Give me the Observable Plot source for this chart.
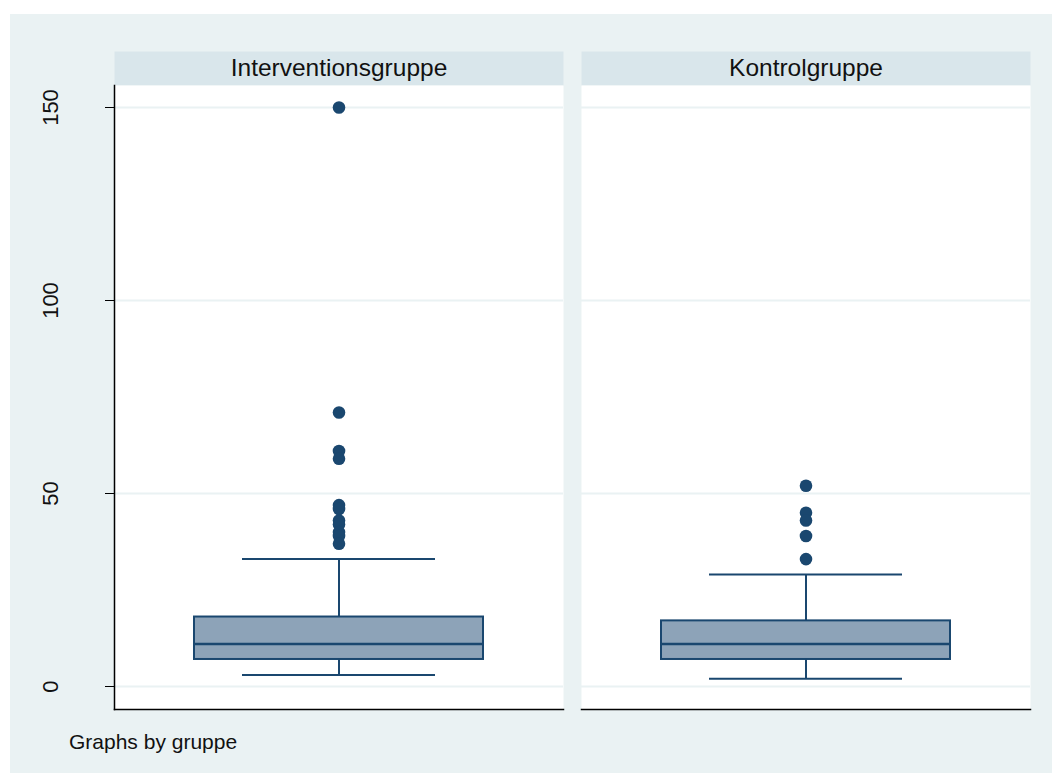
<!DOCTYPE html>
<html>
<head>
<meta charset="utf-8">
<script src="https://cdn.jsdelivr.net/npm/d3@7"></script>
<script src="https://cdn.jsdelivr.net/npm/@observablehq/plot@0.6"></script>
<style>
  html, body { margin: 0; padding: 0; background: #ffffff; }
  #wrap { position: relative; width: 1052px; height: 773px; overflow: hidden; font-family: "Liberation Sans", Arial, sans-serif; }
  #bg { position: absolute; left: 10px; top: 14px; width: 1042px; height: 759px; background: #EAF2F3; }
  #chart { position: absolute; left: 0; top: 0; }
  #caption { position: absolute; left: 69px; top: 729px; font-size: 21px; line-height: 26px; color: #111; }
</style>
</head>
<body>
<div id="wrap">
  <div id="bg"></div>
  <div id="chart"></div>
  <div id="caption">Graphs by gruppe</div>
</div>
<script>
// ---- data ----
const groups = ["Interventionsgruppe", "Kontrolgruppe"];
const lowerWhisker = [3, 2];
const quartile1 = [7, 7];
const medians = [11, 11];
const quartile3 = [18, 17];
const upperWhisker = [33, 29];
const outliersIntervention = [150, 71, 61, 59, 47, 46, 43, 42, 40, 39, 37];
const outliersKontrol = [52, 45, 43, 39, 33];
const yTicks = [0, 50, 100, 150];

// ---- tables built from the arrays ----
const stats = groups.map((g, i) => ({
  group: g, lo: lowerWhisker[i], q1: quartile1[i], median: medians[i], q3: quartile3[i], hi: upperWhisker[i]
}));
const outliers = [
  ...outliersIntervention.map(v => ({group: groups[0], value: v})),
  ...outliersKontrol.map(v => ({group: groups[1], value: v}))
];

const navy = "#1A476F";
const boxFill = "#8DA3B8";
const box = () => "box";

const chart = Plot.plot({
  width: 1052,
  height: 720,
  marginLeft: 114,
  marginRight: 22,
  marginTop: 51,
  marginBottom: 11,
  style: { background: "transparent", fontFamily: "'Liberation Sans', Arial, sans-serif", color: "#111" },
  fx: { domain: groups, paddingInner: 18 / 467, paddingOuter: 0, axis: null, label: null },
  x: { domain: ["box"], padding: 0.2168, axis: null, label: null },
  y: { domain: [0, 150], range: [686, 107], axis: null, label: null },
  marks: [
    // strip header and panel background
    Plot.frame({ fill: "#D9E6EB", insetBottom: 624 }),
    Plot.frame({ fill: "#ffffff", insetTop: 34 }),
    // gridlines
    Plot.gridY(yTicks, { stroke: "#EAF2F3", strokeOpacity: 1, strokeWidth: 2 }),
    // axis lines
    Plot.frame({ anchor: "bottom", stroke: "#000", strokeWidth: 1.5 }),
    Plot.frame({ anchor: "left", stroke: "#000", strokeWidth: 1.5, insetTop: 34, facetAnchor: "left" }),
    // y ticks + rotated labels
    Plot.axisY(yTicks, { tickSize: 9, tickFormat: () => "", stroke: "#000", facetAnchor: "left" }),
    Plot.text(yTicks, { y: d => d, text: d => String(d), frameAnchor: "left", dx: -64, rotate: -90,
      textAnchor: "middle", lineAnchor: "middle", fontSize: 22, fill: "#111", facetAnchor: "left" }),
    // strip titles
    Plot.text(groups, { fx: d => d, text: d => d, frameAnchor: "top", dy: 17, lineAnchor: "middle",
      fontSize: 24.5, fill: "#111" }),
    // whiskers
    Plot.ruleX(stats, { fx: "group", x: box, y1: "q3", y2: "hi", stroke: navy, strokeWidth: 2 }),
    Plot.ruleX(stats, { fx: "group", x: box, y1: "lo", y2: "q1", stroke: navy, strokeWidth: 2 }),
    Plot.tickY(stats, { fx: "group", x: box, y: "hi", stroke: navy, strokeWidth: 2, inset: 48 }),
    Plot.tickY(stats, { fx: "group", x: box, y: "lo", stroke: navy, strokeWidth: 2, inset: 48 }),
    // box
    Plot.barY(stats, { fx: "group", x: box, y1: "q1", y2: "q3", fill: boxFill, stroke: navy, strokeWidth: 2 }),
    Plot.tickY(stats, { fx: "group", x: box, y: "median", stroke: navy, strokeWidth: 2.5 }),
    // outliers
    Plot.dot(outliers, { fx: "group", x: box, y: "value", r: 6.3, fill: navy, stroke: "none" })
  ]
});
document.getElementById("chart").appendChild(chart);
</script>
</body>
</html>
